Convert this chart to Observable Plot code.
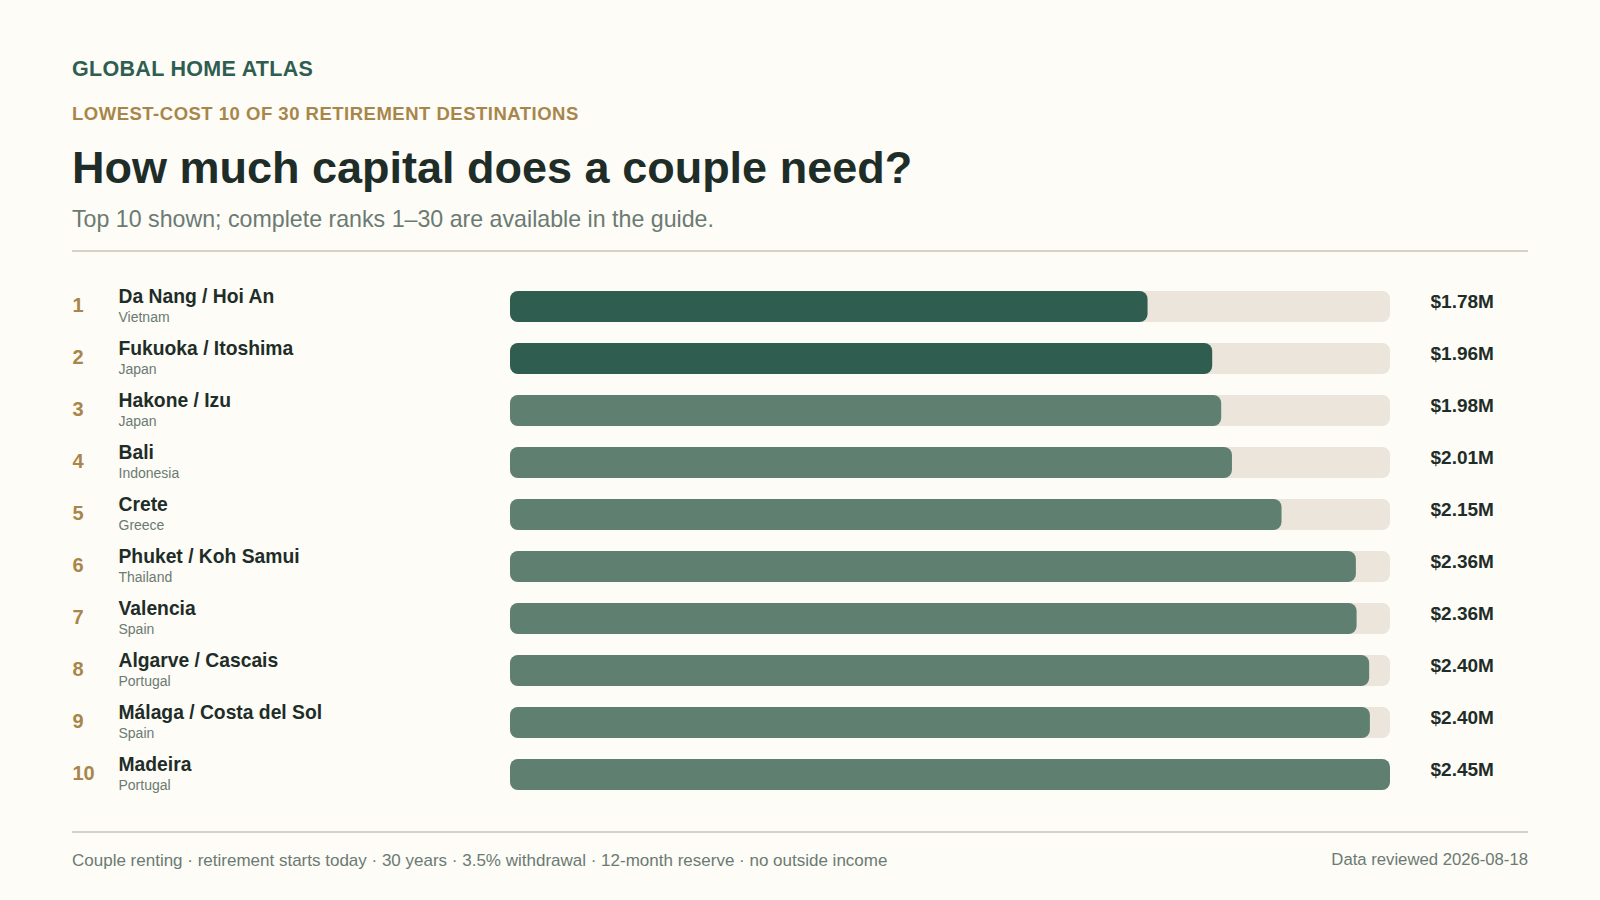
<!DOCTYPE html>
<html>
<head>
<meta charset="utf-8">
<script src="https://cdn.jsdelivr.net/npm/d3@7"></script>
<script src="https://cdn.jsdelivr.net/npm/@observablehq/plot@0.6"></script>
<style>
  html, body { margin: 0; padding: 0; background: #fdfcf7; }
  body { width: 1600px; height: 900px; position: relative; overflow: hidden;
         font-family: "Liberation Sans", Arial, Helvetica, sans-serif; }
  .abs { position: absolute; left: 72px; white-space: nowrap; line-height: 1; }
  #brand { top: 59px; font-size: 21.5px; letter-spacing: 0.3px; font-weight: 700; color: #2f5e50; }
  #kicker { top: 105px; font-size: 18.5px; letter-spacing: 0.5px; font-weight: 700; color: #a8864a; }
  #title { top: 145.3px; font-size: 45px; font-weight: 700; color: #1f2d28; }
  #sub { top: 207.5px; font-size: 23.2px; color: #6b7a72; }
  .rule { position: absolute; left: 72px; width: 1456px; height: 2px; background: #d8d2c6; }
  #chart { position: absolute; left: 72px; top: 280px; }
  #foot { top: 852px; font-size: 17px; color: #6b7a72; }
  #foot2 { position: absolute; right: 72px; top: 852px; font-size: 16.7px; color: #6b7a72; line-height: 1; white-space: nowrap; }
</style>
</head>
<body>
<div id="brand" class="abs">GLOBAL HOME ATLAS</div>
<div id="kicker" class="abs">LOWEST-COST 10 OF 30 RETIREMENT DESTINATIONS</div>
<div id="title" class="abs">How much capital does a couple need?</div>
<div id="sub" class="abs">Top 10 shown; complete ranks 1–30 are available in the guide.</div>
<div class="rule" style="top:250px"></div>
<div id="chart"></div>
<div class="rule" style="top:831px"></div>
<div id="foot" class="abs">Couple renting · retirement starts today · 30 years · 3.5% withdrawal · 12-month reserve · no outside income</div>
<div id="foot2">Data reviewed 2026-08-18</div>
<script>
const ranks = [1, 2, 3, 4, 5, 6, 7, 8, 9, 10];
const cities = ["Da Nang / Hoi An", "Fukuoka / Itoshima", "Hakone / Izu", "Bali", "Crete",
  "Phuket / Koh Samui", "Valencia", "Algarve / Cascais", "Málaga / Costa del Sol", "Madeira"];
const countries = ["Vietnam", "Japan", "Japan", "Indonesia", "Greece",
  "Thailand", "Spain", "Portugal", "Spain", "Portugal"];
const capitalM = [1.775, 1.955, 1.98, 2.01, 2.148, 2.355, 2.357, 2.392, 2.394, 2.45];
const valueLabels = ["$1.78M", "$1.96M", "$1.98M", "$2.01M", "$2.15M", "$2.36M", "$2.36M", "$2.40M", "$2.40M", "$2.45M"];

const rows = ranks.map((r, i) => ({rank: r, city: cities[i], country: countries[i], value: capitalM[i], label: valueLabels[i]}));
const maxV = d3.max(capitalM);

const dark = "#2f5e50", light = "#5f7f71", track = "#ebe5db";
const ink = "#1f2d28", gold = "#a8864a", grey = "#6b7a72";

const chart = Plot.plot({
  width: 1456,
  height: 520,
  marginLeft: 438,
  marginRight: 138,
  marginTop: 0,
  marginBottom: 0,
  style: {background: "transparent", fontFamily: "'Liberation Sans', Arial, sans-serif", overflow: "visible"},
  x: {domain: [0, maxV], axis: null},
  y: {domain: cities, axis: null, paddingInner: 0.41, paddingOuter: 0.205},
  marks: [
    Plot.barX(rows, {y: "city", x1: 0, x2: () => maxV, fill: track, rx: 8}),
    Plot.barX(rows, {y: "city", x1: 0, x2: "value", fill: d => d.rank <= 2 ? dark : light, rx: 8}),
    Plot.text(rows, {y: "city", x: 0, text: d => String(d.rank), dx: -438, dy: -1, textAnchor: "start",
      fontSize: 20, fontWeight: 700, fill: gold}),
    Plot.text(rows, {y: "city", x: 0, text: "city", dx: -392, dy: -10, textAnchor: "start",
      fontSize: 19.3, fontWeight: 700, fill: ink}),
    Plot.text(rows, {y: "city", x: 0, text: "country", dx: -392, dy: 11, textAnchor: "start",
      fontSize: 14, fill: grey}),
    Plot.text(rows, {y: "city", x: () => maxV, text: "label", dx: 40, dy: -5, textAnchor: "start",
      fontSize: 19, fontWeight: 700, fill: ink})
  ]
});
document.getElementById("chart").appendChild(chart);
</script>
</body>
</html>
